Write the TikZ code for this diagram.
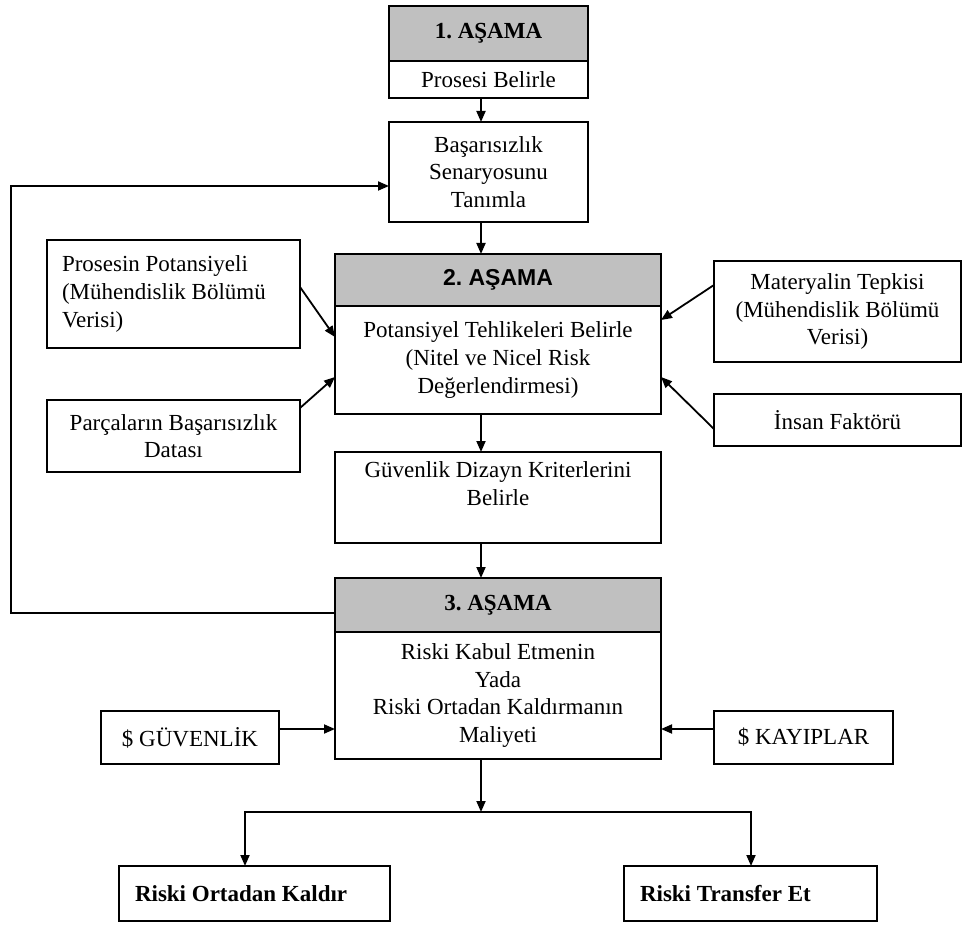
\documentclass[tikz,border=0pt]{standalone}
\usepackage{fontspec}
\setmainfont{Liberation Serif}
\newfontfamily\headsans{Liberation Sans}
\usetikzlibrary{positioning,calc,arrows.meta}
\definecolor{hdrgray}{RGB}{192,192,192}
\frenchspacing

\begin{document}
\begin{tikzpicture}[x=0.5pt,y=-0.5pt,font=\fontsize{11.5}{13.8}\selectfont,every node/.style={draw, line width=0.9pt, align=center, inner sep=2pt, outer sep=0pt},head/.style={fill=hdrgray, font=\fontsize{11.5}{13.8}\selectfont\bfseries},arr/.style={-{Triangle[length=5.5pt,width=4.5pt]}, line width=0.9pt}]
\useasboundingbox (0,0) rectangle (963,925);
\coordinate (axis) at (481,0);
\node[head, minimum width=99.5pt, minimum height=27.5pt] (h1) at (488.5,33.5) {1. AŞAMA};
\node[minimum width=99.5pt, minimum height=18.5pt, below=0pt of h1] (b1) {Prosesi Belirle};
\node[minimum width=99.5pt, minimum height=50pt] (sc) at (488.5,172) {Başarısızlık\\Senaryosunu\\Tanımla};
\node[head, font=\fontsize{11.5}{13.8}\headsans\bfseries, minimum width=163pt, minimum height=26pt] (h2) at (498,280) {2. AŞAMA};
\node[minimum width=163pt, minimum height=54pt, below=0pt of h2] (b2) {Potansiyel Tehlikeleri Belirle\\(Nitel ve Nicel Risk\\Değerlendirmesi)};
\node[minimum width=163pt, minimum height=45.5pt] (gd) at (498,497.5) {Güvenlik Dizayn Kriterlerini\\Belirle\\\mbox{}};
\node[head, minimum width=163pt, minimum height=27pt] (h3) at (498,605) {3. AŞAMA};
\node[minimum width=163pt, minimum height=63.5pt, below=0pt of h3] (b3) {Riski Kabul Etmenin\\Yada\\Riski Ortadan Kaldırmanın\\Maliyeti};
\node[text width=111.5pt, inner xsep=7.5pt, minimum height=54pt, align=flush left] (pp) at (173.5,294) {Prosesin Potansiyeli\\(Mühendislik Bölümü\\Verisi)};
\node[minimum width=126.5pt, minimum height=36pt] (pb) at (173.5,436) {Parçaların Başarısızlık\\Datası};
\node[minimum width=123.5pt, minimum height=50.5pt] (mt) at (837.5,311.5) {Materyalin Tepkisi\\(Mühendislik Bölümü\\Verisi)};
\node[minimum width=123.5pt, minimum height=26pt] (ins) at (837.5,420) {İnsan Faktörü};
\node[minimum width=89pt, minimum height=26.5pt] (sg) at (190,737.5) {\$ GÜVENLİK};
\node[minimum width=89.5pt, minimum height=26.5pt] (sk) at (803.5,737.5) {\$ KAYIPLAR};
\node[text width=119.5pt, inner xsep=8pt, minimum height=27.5pt, align=flush left, font=\fontsize{11.5}{13.8}\selectfont\bfseries] (ro) at (254.5,893.5) {Riski Ortadan Kaldır};
\node[text width=110.5pt, inner xsep=8pt, minimum height=27.5pt, align=flush left, font=\fontsize{11.5}{13.8}\selectfont\bfseries] (rt) at (750.5,893.5) {Riski Transfer Et};
\coordinate (fbl) at (11,613);
\coordinate (spm) at (481,812);
\coordinate (spl) at (245,812);
\coordinate (spr) at (751,812);
\draw[arr] (b1.south -| axis) -- (sc.north -| axis);
\draw[arr] (sc.south -| axis) -- (h2.north -| axis);
\draw[arr] (b2.south -| axis) -- (gd.north -| axis);
\draw[arr] (gd.south -| axis) -- (h3.north -| axis);
\draw[arr] ($(h3.west)+(0,8)$) -- (fbl) |- ($(sc.west)+(0,14)$);
\draw[arr] ($(pp.east)+(0,-7)$) -- ($(b2.west)+(0,-23)$);
\draw[arr] ($(pb.east)+(0,-28)$) -- ($(b2.west)+(0,17)$);
\draw[arr] ($(mt.west)+(0,-26.5)$) -- ($(b2.east)+(0,-40)$);
\draw[arr] ($(ins.west)+(0,9)$) -- ($(b2.east)+(0,17)$);
\draw[arr] ($(sg.east)+(0,-8.5)$) -- ($(b3.west)+(0,33.5)$);
\draw[arr] ($(sk.west)+(0,-8.5)$) -- ($(b3.east)+(0,33.5)$);
\draw[arr] (b3.south -| spm) -- (spm);
\draw[arr] (spm) -- (spl) -- (spl |- ro.north);
\draw[arr] (spm) -- (spr) -- (spr |- rt.north);
\end{tikzpicture}
\end{document}
